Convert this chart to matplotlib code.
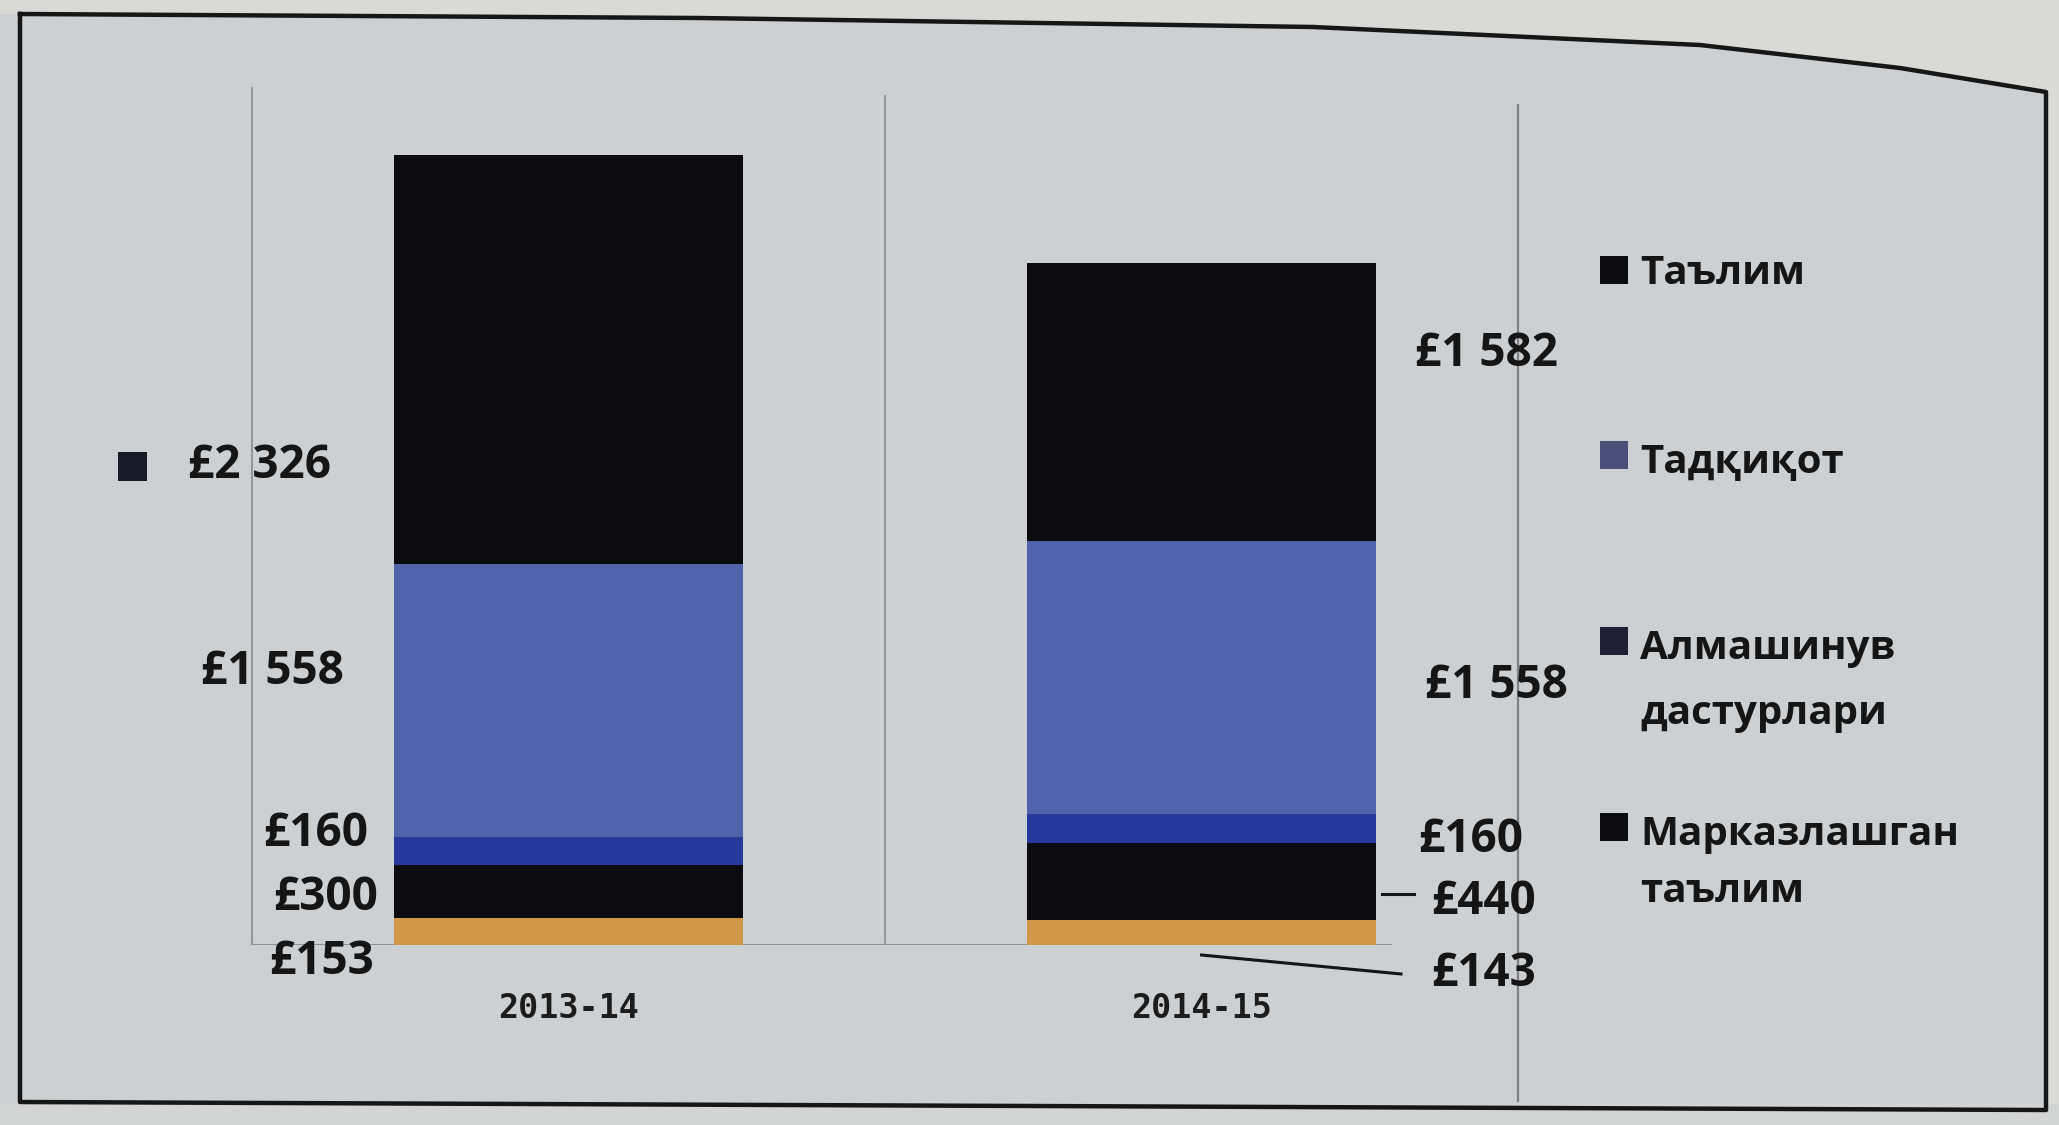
import matplotlib
matplotlib.use("Agg")
import matplotlib.pyplot as plt
from matplotlib.lines import Line2D
from matplotlib.patches import Rectangle, Polygon

# ---------------- data ----------------
years = ["2013-14", "2014-15"]
orange_vals = [153, 143]          # bottom segment (no legend entry)
markaz_vals = [300, 440]          # Марказлашган таълим
almash_vals = [160, 160]          # Алмашинув дастурлари
tadqiqot_vals = [1558, 1558]      # Тадқиқот
talim_vals = [2326, 1582]         # Таълим
legend_labels = ["Таълим", "Тадқиқот", "Алмашинув\nдастурлари", "Марказлашган\nтаълим"]

# ---------------- style ----------------
FONT = ["Open Sans", "Noto Sans", "DejaVu Sans"]
plt.rcParams["font.family"] = FONT
W, H = 2059, 1125
BG = "#ccd0d2"
col_orange = "#d09748"
col_markaz = "#0c0c10"
col_almash = "#27399c"
col_tadq = "#4e63aa"
col_talim = "#0b0b0e"
leg_colors = ["#0b0b0e", "#4b5079", "#1f2036", "#0c0c0e"]


def fx(x):
    return x / W


def fy(y):
    return 1 - y / H


fig = plt.figure(figsize=(W / 100, H / 100), dpi=100)
fig.patch.set_facecolor(BG)

# photo-like outer region and printed frame
top_curve = [(20, 14), (700, 18), (1313, 27), (1700, 45), (1900, 68), (2046, 92)]
outer = [(0, 0), (W, 0), (W, H), (2046, H), (2046, 92)] + top_curve[::-1] + [(0, 14)]
fig.patches.append(Polygon([(fx(x), fy(y)) for x, y in outer], closed=True,
                           transform=fig.transFigure, facecolor="#d9dad6", edgecolor="none", zorder=0))
fig.patches.append(Rectangle((0, 0), 1, fy(1104), transform=fig.transFigure,
                             facecolor="#d3d5d4", edgecolor="none", zorder=0))
frame = top_curve + [(2046, 1110), (20, 1102), (20, 14)]
fig.lines.append(Line2D([fx(x) for x, _ in frame], [fy(y) for _, y in frame],
                        transform=fig.transFigure, color="#161616", lw=3.2, zorder=1))

# ---------------- axes ----------------
ax = fig.add_axes([250 / W, fy(945), 1270 / W, 866 / H])
ax.set_facecolor("none")
ax.set_xlim(-0.503, 1.503)
ax.set_ylim(0, 4930)
for s in ax.spines.values():
    s.set_visible(False)
ax.set_yticks([])
x = [0, 1]
ax.set_xticks(x)
ax.set_xticklabels(years, fontsize=24, fontweight="bold", color="#1c1c1c",
                   family=["DejaVu Sans Mono", "DejaVu Sans"])
ax.tick_params(axis="x", length=0, pad=34)

# category separators (gridlines)
ax.axvline(-0.5, ymax=0.99, color="#8d9195", lw=1.3, zorder=1)
ax.axvline(0.5, ymax=0.98, color="#8d9195", lw=1.3, zorder=1)
ax.axvline(1.5, ymin=-0.18, ymax=0.97, color="#7d8185", lw=1.6, zorder=1, clip_on=False)
ax.plot([-0.5, 1.3], [0, 0], color="#8d9195", lw=1.5, zorder=1)

# stacked bars
width = 0.55
series = [orange_vals, markaz_vals, almash_vals, tadqiqot_vals, talim_vals]
colors = [col_orange, col_markaz, col_almash, col_tadq, col_talim]
bottom = [0, 0]
for vals, c in zip(series, colors):
    ax.bar(x, vals, width, bottom=bottom, color=c, edgecolor="none", zorder=2)
    bottom = [b + v for b, v in zip(bottom, vals)]


def fmt(v):
    return "£" + f"{v:,}".replace(",", " ")


VAL = dict(fontsize=33, fontweight="bold", color="#151515")
LBL = dict(fontsize=29, fontweight="bold", color="#151515")
# value labels (layout positions in px, bottom-to-top order)
left_pos = [(374, 962), (378, 897), (368, 834), (344, 672), (331, 466)]
right_pos = [(1431, 974), (1431, 901), (1418, 840), (1425, 685), (1415, 354)]
for vals, (lx, ly), (rx, ry) in zip(series, left_pos, right_pos):
    fig.text(fx(lx), fy(ly), fmt(vals[0]), ha="right", va="center", **VAL)
    fig.text(fx(rx), fy(ry), fmt(vals[1]), ha="left", va="center", **VAL)

# key square next to the first label
fig.patches.append(Rectangle((fx(118), fy(481)), 29 / W, 29 / H, transform=fig.transFigure,
                             facecolor="#141a26", edgecolor="none"))

# leader lines for 2014-15 small segments
ax.plot([1.285, 1.335], [290, 290], color="#151515", lw=2.2, clip_on=False, zorder=3)
ax.plot([1.0, 1.315], [-57, -165], color="#151515", lw=2.2, clip_on=False, zorder=3)

# legend (hand placed)
leg_marker_y = [270, 455, 641, 827]
leg_text_y = [273, 462, 681, 863]
leg_spacing = [1.2, 1.2, 1.88, 1.63]
for lab, c, my, ty, ls in zip(legend_labels, leg_colors, leg_marker_y, leg_text_y, leg_spacing):
    fig.patches.append(Rectangle((fx(1600), fy(my + 14)), 28 / W, 28 / H,
                                 transform=fig.transFigure, facecolor=c, edgecolor="none"))
    fig.text(fx(1640), fy(ty), lab, ha="left", va="center", linespacing=ls, **LBL)

fig.savefig("out.png", dpi=100, facecolor=fig.get_facecolor())
